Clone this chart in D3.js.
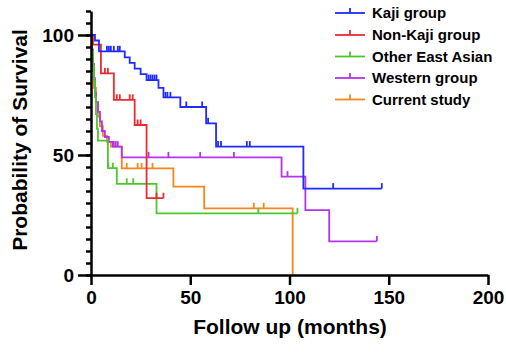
<!DOCTYPE html>
<html>
<head>
  <meta charset="utf-8">
  <title>Survival curves</title>
  <script src="https://cdnjs.cloudflare.com/ajax/libs/d3/7.8.5/d3.min.js"></script>
  <style>
    body {
      margin: 0;
      background: #fff;
      font-family: "Liberation Sans", Arial, sans-serif;
    }
    .axis path, .axis line {
      stroke: #000;
      stroke-width: 2.5px;
    }
    .axis text {
      font-size: 19px;
      font-weight: bold;
      fill: #000;
    }
    .title {
      font-size: 21px;
      font-weight: bold;
    }
    .legend text {
      font-size: 15px;
      font-weight: bold;
    }
  </style>
</head>
<body>
  <div id="chart"></div>

  <script>
    // Data: [month, survival %] step points, last point = end of follow up
    const groups = ["Kaji group", "Non-Kaji group", "Other East Asian", "Western group", "Current study"];
    const colors = ["#1f2bff", "#ec2a2f", "#4cc72e", "#b334ec", "#f7861f"];

    const kajiSteps = [[0,100],[2,97.7],[4,93.2],[17,90.7],[19.5,88.4],[22,86],[25,83.7],[28,81.2],[34,78],[36.5,74],[45,70],[58,63.2],[63,53.5],[107,36],[146.5,36]];
    const kajiCensored = [8,9,10,11.5,13.5,14.5,29,30,31,32,33,37.5,38.5,40,48,56,59,64,65.5,78.5,80,122,146.5];

    const nonKajiSteps = [[0,100],[1,96],[5,84],[11.5,73],[22,62.5],[28,32],[36.5,32]];
    const nonKajiCensored = [7,8.5,13,14.5,19.5,21,23.5,25,33,36.5];

    const eastAsianSteps = [[0,100],[0.5,93],[1,87],[1.5,81],[2,74],[2.5,67],[3,61],[3.5,56],[8.5,44.5],[13,38],[33,25.7],[104,25.7]];
    const eastAsianCensored = [8.7,11,18,21.3,84.3,104];

    const westernSteps = [[0,100],[0.5,94],[1,88],[1.5,82],[2,76],[2.5,72],[3.5,68],[4.5,64],[5.5,60],[7,57.5],[9,55.5],[11,53.5],[15.5,49],[96,41],[108,27],[120,14],[144,14]];
    const westernCensored = [11.5,12.5,13.5,29,39,55,72,99,144];

    const currentSteps = [[0,100],[0.5,92],[1,85],[1.5,78],[2.5,72],[3.5,66],[4.5,62],[6,58],[8,55.5],[10,53.5],[15.5,44.4],[41.5,36.8],[57,27.8],[101.6,0]];
    const currentCensored = [18,23.5,25.5,31,82,87];

    const xTicks = [0, 50, 100, 150, 200];
    const yTicks = [0, 50, 100];

    const series = [
      { steps: kajiSteps, censored: kajiCensored },
      { steps: nonKajiSteps, censored: nonKajiCensored },
      { steps: eastAsianSteps, censored: eastAsianCensored },
      { steps: westernSteps, censored: westernCensored },
      { steps: currentSteps, censored: currentCensored }
    ];

    const width = 506;
    const height = 354;

    const x = d3.scaleLinear().domain([0, 200]).range([91, 488]);
    const y = d3.scaleLinear().domain([0, 110]).range([275, 11]);

    const svg = d3.select("#chart")
      .append("svg")
      .attr("width", width)
      .attr("height", height);

    // survival value at time t (step function, right continuous)
    function survivalAt(steps, t) {
      let s = steps[0][1];
      for (let p of steps) {
        if (p[0] <= t) s = p[1];
      }
      return s;
    }

    const line = d3.line()
      .x(d => x(d[0]))
      .y(d => y(d[1]))
      .curve(d3.curveStepAfter);

    // draw curves, last group underneath
    const curves = svg.append("g");
    for (let i = series.length - 1; i >= 0; i--) {
      const s = series[i];
      curves.append("path")
        .attr("d", line(s.steps))
        .attr("fill", "none")
        .attr("stroke", colors[i])
        .attr("stroke-width", 1.8);

      curves.append("g")
        .selectAll("line")
        .data(s.censored)
        .enter().append("line")
        .attr("x1", d => x(d))
        .attr("x2", d => x(d))
        .attr("y1", d => y(survivalAt(s.steps, d)))
        .attr("y2", d => y(survivalAt(s.steps, d)) - 5.5)
        .attr("stroke", colors[i])
        .attr("stroke-width", 1.8);
    }

    // y axis: minor ticks every 5, labelled major ticks
    svg.append("g")
      .attr("class", "axis")
      .attr("transform", "translate(91,0)")
      .call(d3.axisLeft(y).tickValues(d3.range(0, 111, 5)).tickSize(5).tickFormat("").tickSizeOuter(0));

    svg.append("g")
      .attr("class", "axis")
      .attr("transform", "translate(91,0)")
      .call(d3.axisLeft(y).tickValues(yTicks).tickSize(13).tickPadding(4).tickSizeOuter(0))
      .call(g => g.select(".domain").remove());

    svg.append("g")
      .attr("class", "axis")
      .attr("transform", "translate(0,275)")
      .call(d3.axisBottom(x).tickValues(xTicks).tickSize(10).tickPadding(6).tickSizeOuter(0));

    svg.selectAll(".axis text").attr("font-family", null);

    // axis titles
    svg.append("text")
      .attr("class", "title")
      .attr("x", 290)
      .attr("y", 334)
      .attr("text-anchor", "middle")
      .text("Follow up (months)");

    svg.append("text")
      .attr("class", "title")
      .attr("transform", "translate(27,140) rotate(-90)")
      .attr("text-anchor", "middle")
      .text("Probability of Survival");

    // legend
    const legend = svg.append("g").attr("class", "legend");
    const rowY = [13, 35, 56.5, 78, 99.5];
    groups.forEach((name, i) => {
      const row = legend.append("g").attr("transform", `translate(0,${rowY[i]})`);
      row.append("line")
        .attr("x1", 335).attr("x2", 365)
        .attr("stroke", colors[i]).attr("stroke-width", 1.8);
      row.append("line")
        .attr("x1", 350).attr("x2", 350).attr("y1", 0).attr("y2", -5)
        .attr("stroke", colors[i]).attr("stroke-width", 1.8);
      row.append("text")
        .attr("x", 372)
        .attr("dy", "0.35em")
        .text(name);
    });
  </script>
</body>
</html>
